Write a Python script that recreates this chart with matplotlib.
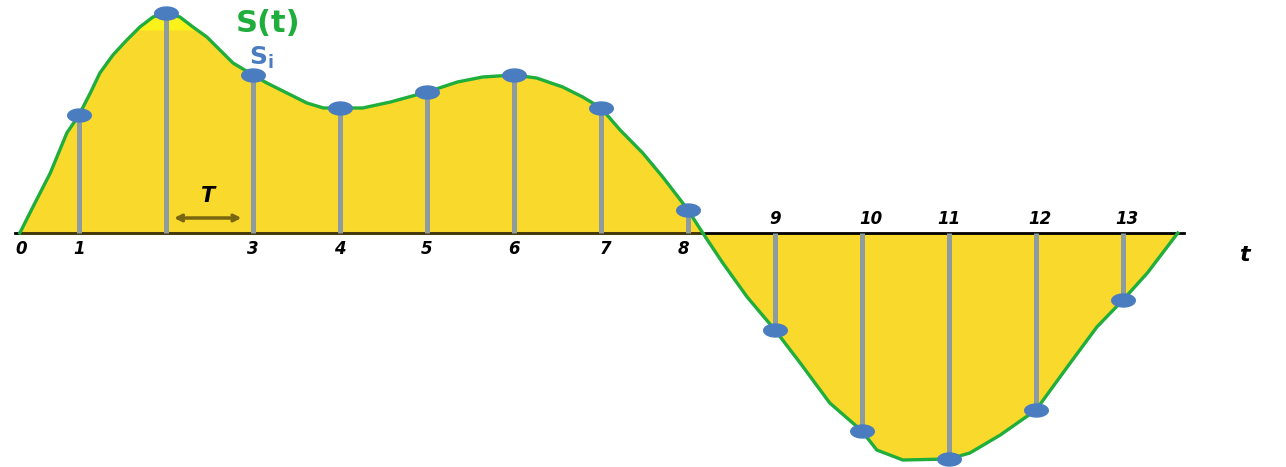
import numpy as np
import matplotlib

matplotlib.use("Agg")

import matplotlib.pyplot as plt  # noqa: E402

# sampled signal: sample index and sampled value
sample_t = [1, 2, 3, 4, 5, 6, 7, 8, 9, 10, 11, 12, 13]
sample_s = [1.18, 2.20, 1.58, 1.25, 1.41, 1.58, 1.25, 0.23,
            -0.97, -1.98, -2.26, -1.77, -0.67]

# continuous signal S(t)
curve_t = [0.32, 0.47, 0.67, 0.86, 1.00, 1.13, 1.24, 1.39, 1.55, 1.70, 1.85,
           2.00, 2.16, 2.31, 2.47, 2.62, 2.77, 3.00, 3.16, 3.39, 3.62, 3.81,
           4.00, 4.26, 4.58, 5.00, 5.35, 5.64, 6.00, 6.26, 6.56, 6.79, 7.00,
           7.22, 7.48, 7.71, 7.94, 8.00, 8.17, 8.40, 8.68, 9.00, 9.29, 9.63,
           10.00, 10.17, 10.47, 11.00, 11.24, 11.59, 12.00, 12.36, 12.70,
           13.00, 13.28, 13.63]
curve_s = [0.00, 0.26, 0.60, 1.00, 1.18, 1.40, 1.60, 1.78, 1.93, 2.06, 2.16,
           2.20, 2.16, 2.06, 1.96, 1.83, 1.70, 1.58, 1.50, 1.40, 1.30, 1.25,
           1.25, 1.25, 1.31, 1.41, 1.51, 1.56, 1.58, 1.55, 1.46, 1.36, 1.25,
           1.03, 0.80, 0.56, 0.30, 0.23, 0.00, -0.30, -0.64, -0.97, -1.30,
           -1.70, -1.98, -2.17, -2.27, -2.26, -2.20, -2.02, -1.77, -1.34,
           -0.94, -0.67, -0.40, 0.00]

below_labels = ["0", "1", "3", "4", "5", "6", "7", "8"]
below_pos = [0.33, 1.0, 3.0, 4.0, 5.0, 6.0, 7.05, 7.95]
above_labels = ["9", "10", "11", "12", "13"]
above_pos = [9.0, 10.1, 11.0, 12.05, 13.05]

YELLOW = "#f9d92c"
GREEN = "#1fae3c"
BLUE = "#4a7cc0"
GREY = "#8e9ca0"

fig = plt.figure(figsize=(12.86, 4.67), dpi=100)
ax = fig.add_axes([0, 0, 1, 1])
ax.set_xlim(0.092, 14.874)
ax.set_ylim(-2.34, 2.33)
ax.axis("off")

ct = np.array(curve_t)
cs = np.array(curve_s)
ax.fill_between(ct, cs, 0, color=YELLOW, lw=0, zorder=1)
ax.fill_between(ct, cs, 2.03, where=cs >= 2.03, interpolate=True,
                color="#fbf21c", lw=0, zorder=1)
ax.plot([0.26, 13.70], [0, 0], color="black", lw=2.0, zorder=2)
ax.plot([0.33, 8.17], [0, 0], color="#6b5a10", lw=2.2, alpha=0.6, zorder=2)
ax.plot(ct, cs, color=GREEN, lw=2.4, solid_joinstyle="round", zorder=3)

ax.vlines(sample_t, 0, sample_s, color=GREY, lw=3.6, zorder=4)

th = np.linspace(0, 2 * np.pi, 40)
ellipse = np.column_stack([np.cos(th), 0.55 * np.sin(th)])
ax.plot(sample_t, sample_s, ls="none", marker=ellipse, ms=17,
        color=BLUE, mec=BLUE, zorder=5)

for lab, x in zip(below_labels, below_pos):
    ax.text(x, -0.07, lab, ha="center", va="top", fontsize=12,
            fontweight="bold", style="italic", zorder=6)
for lab, x in zip(above_labels, above_pos):
    ax.text(x, 0.05, lab, ha="center", va="bottom", fontsize=12,
            fontweight="bold", style="italic", zorder=6)
ax.text(14.4, -0.12, "t", ha="center", va="top", fontsize=16,
        fontweight="bold", style="italic")

ax.text(2.80, 2.10, "S(t)", ha="left", va="center", fontsize=22,
        fontweight="bold", color=GREEN)
ax.text(2.95, 1.75, "$\\mathbf{S_i}$", ha="left", va="center", fontsize=18,
        color=BLUE)

# sampling period T
ax.annotate("", xy=(2.06, 0.15), xytext=(2.90, 0.15),
            arrowprops=dict(arrowstyle="<->", color="#7a6510", lw=2.5))
ax.text(2.48, 0.27, "T", ha="center", va="bottom", fontsize=15,
        style="italic", fontweight="bold")

fig.savefig("out.png", dpi=100)
plt.close(fig)
